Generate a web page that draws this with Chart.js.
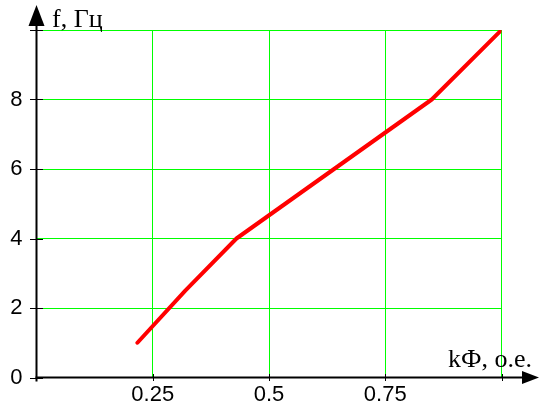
<!DOCTYPE html>
<html>
<head>
<meta charset="utf-8">
<script src="https://cdn.jsdelivr.net/npm/chart.js@4/dist/chart.umd.min.js"></script>
<style>
  html, body { margin: 0; padding: 0; background: #fff; }
  #wrap { width: 539px; height: 405px; }
</style>
</head>
<body>
<div id="wrap"><canvas id="c" width="539" height="405"></canvas></div>
<script>
// Frequency versus flux curve
const fluxValues = [0.217, 0.32, 0.43, 0.85, 1.0];
const freqValues = [1.0, 2.5, 4.0, 8.0, 10.0];

// Grid and tick positions
const xTickValues = [0, 0.25, 0.5, 0.75, 1.0];
const yTickValues = [0, 2, 4, 6, 8, 10];
const xLabelled = [0.25, 0.5, 0.75];
const yLabelled = [0, 2, 4, 6, 8];

const xTitle = 'kФ, о.е.';
const yTitle = 'f, Гц';

const points = fluxValues.map((x, i) => ({ x: x, y: freqValues[i] }));

// Axes with arrows, crossing tick marks and serif axis titles
const arrowAxes = {
  id: 'arrowAxes',
  afterDatasetsDraw(chart) {
    const ctx = chart.ctx;
    const xs = chart.scales.x, ys = chart.scales.y;
    const x0 = xs.getPixelForValue(0);
    const y0 = ys.getPixelForValue(0);
    const W = chart.width;
    ctx.save();
    ctx.strokeStyle = '#000';
    ctx.fillStyle = '#000';
    ctx.lineWidth = 2;
    // horizontal axis
    ctx.beginPath();
    ctx.moveTo(x0 - 1, y0);
    ctx.lineTo(W - 8, y0);
    ctx.stroke();
    // vertical axis
    ctx.beginPath();
    ctx.moveTo(x0, y0 + 4);
    ctx.lineTo(x0, 14);
    ctx.stroke();
    // arrow heads
    ctx.beginPath();
    ctx.moveTo(W, y0);
    ctx.lineTo(W - 17, y0 - 6.5);
    ctx.lineTo(W - 17, y0 + 6.5);
    ctx.closePath();
    ctx.fill();
    ctx.beginPath();
    ctx.moveTo(x0, 5);
    ctx.lineTo(x0 - 8, 26);
    ctx.lineTo(x0 + 8, 26);
    ctx.closePath();
    ctx.fill();
    // tick marks
    ctx.lineWidth = 1;
    yTickValues.forEach(v => {
      const py = Math.round(ys.getPixelForValue(v)) + 0.5;
      ctx.beginPath();
      ctx.moveTo(x0 - 6.5, py);
      ctx.lineTo(x0 + 6.5, py);
      ctx.stroke();
    });
    xTickValues.forEach(v => {
      if (v === 0) return;
      const px = Math.round(xs.getPixelForValue(v)) + 0.5;
      ctx.beginPath();
      ctx.moveTo(px, y0 - 3.5);
      ctx.lineTo(px, y0 + 3.5);
      ctx.stroke();
    });
    // axis titles
    ctx.font = '26px "Liberation Serif", "Times New Roman", serif';
    ctx.textBaseline = 'alphabetic';
    ctx.textAlign = 'left';
    ctx.fillText(yTitle, 52, 27);
    ctx.textAlign = 'right';
    ctx.fillText(xTitle, 532, 367);
    ctx.restore();
  }
};

new Chart(document.getElementById('c'), {
  type: 'line',
  data: {
    datasets: [{
      data: points,
      borderColor: '#ff0000',
      borderWidth: 4,
      borderCapStyle: 'round',
      borderJoinStyle: 'round',
      pointRadius: 0,
      fill: false,
      tension: 0
    }]
  },
  options: {
    responsive: false,
    animation: false,
    devicePixelRatio: 1,
    layout: { padding: { top: 30, right: 37.5, left: 0, bottom: 0 } },
    plugins: { legend: { display: false }, tooltip: { enabled: false } },
    scales: {
      x: {
        type: 'linear',
        min: 0,
        max: 1,
        afterFit(scale) { scale.height = 27.5; },
        afterBuildTicks(scale) { scale.ticks = xTickValues.map(v => ({ value: v })); },
        grid: { color: '#00ff00', lineWidth: 1, drawTicks: false },
        border: { display: false },
        ticks: {
          padding: 4,
          color: '#000',
          font: { family: '"Liberation Sans", Arial, sans-serif', size: 22 },
          callback: v => xLabelled.includes(v) ? String(v) : ''
        }
      },
      y: {
        type: 'linear',
        min: 0,
        max: 10,
        afterFit(scale) { scale.width = 36.5; },
        afterBuildTicks(scale) { scale.ticks = yTickValues.map(v => ({ value: v })); },
        grid: { color: '#00ff00', lineWidth: 1, drawTicks: false },
        border: { display: false },
        ticks: {
          padding: 14,
          color: '#000',
          font: { family: '"Liberation Sans", Arial, sans-serif', size: 22 },
          callback: v => yLabelled.includes(v) ? String(v) : ''
        }
      }
    }
  },
  plugins: [arrowAxes]
});
</script>
</body>
</html>
